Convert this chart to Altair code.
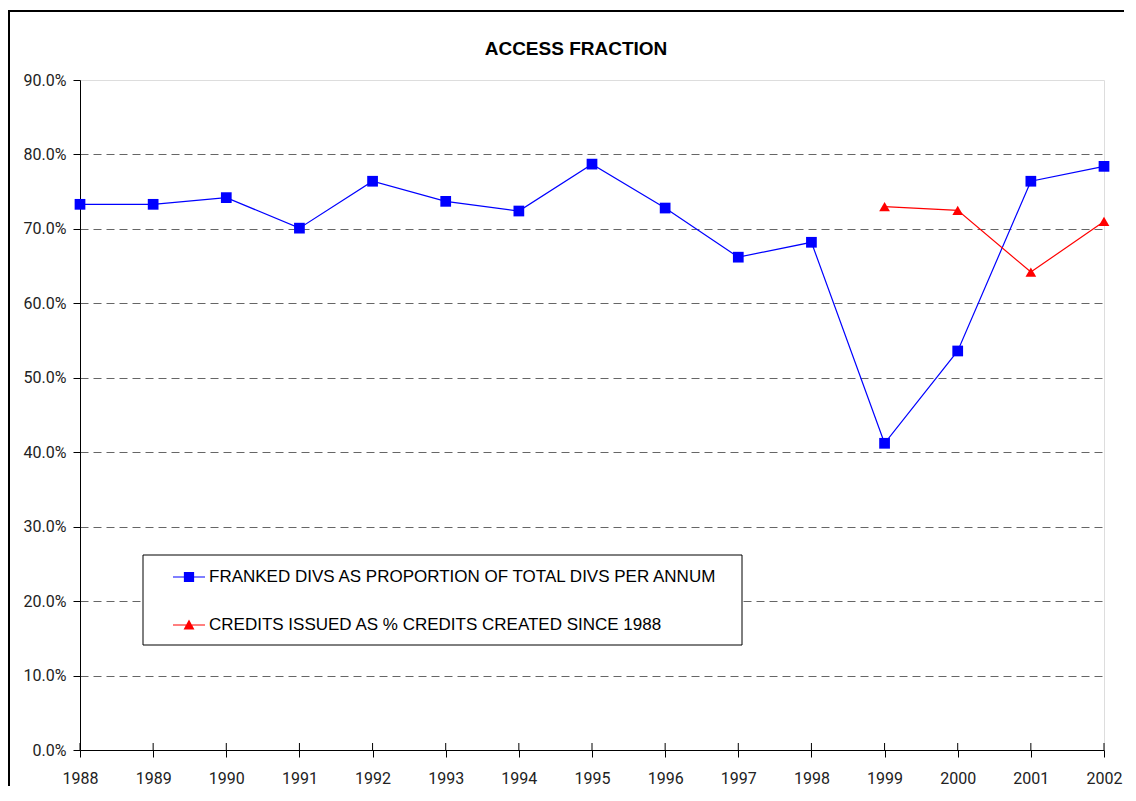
import altair as alt
import pandas as pd

years = [1988, 1989, 1990, 1991, 1992, 1993, 1994, 1995, 1996, 1997, 1998, 1999, 2000, 2001, 2002]
franked = [73.3, 73.3, 74.2, 70.1, 76.4, 73.7, 72.4, 78.7, 72.8, 66.2, 68.2, 41.2, 53.6, 76.4, 78.4]
credit_years = [1999, 2000, 2001, 2002]
credits = [73.0, 72.5, 64.2, 71.0]

series_names = ["FRANKED DIVS AS PROPORTION OF TOTAL DIVS PER ANNUM",
                "CREDITS ISSUED AS % CREDITS CREATED SINCE 1988"]
series_colors = ["#0000FF", "#FF0000"]
y_ticks = [0.0, 0.1, 0.2, 0.3, 0.4, 0.5, 0.6, 0.7, 0.8, 0.9]

rows = [{"year": y, "value": v / 100.0, "series": series_names[0]} for y, v in zip(years, franked)]
rows += [{"year": y, "value": v / 100.0, "series": series_names[1]} for y, v in zip(credit_years, credits)]
df = pd.DataFrame(rows)
df_years = pd.DataFrame({"year": years})
df_one = pd.DataFrame({"k": [0]})

W, H = 1024, 670
axis_font = "Roboto"
text_font = "Liberation Sans"

x_enc = alt.X("year:Q",
              scale=alt.Scale(domain=[1988, 2002], nice=False, zero=False),
              axis=alt.Axis(values=years, format="d", title=None, grid=False,
                            labelFont=axis_font, labelFontSize=16, labelColor="#222222",
                            tickSize=7, tickColor="#000000", domainColor="#000000",
                            labelPadding=13, labelFlush=False))
y_enc = alt.Y("value:Q",
              scale=alt.Scale(domain=[0, 0.9], nice=False),
              axis=alt.Axis(values=y_ticks, format=".1%", title=None,
                            labelFont=axis_font, labelFontSize=16, labelColor="#222222",
                            tickSize=7, tickColor="#000000", domainColor="#000000",
                            labelPadding=7,
                            grid=True, gridColor="#666666", gridDash=[8, 5],
                            gridOpacity={"condition": {"test": "datum.value > 0.85 || datum.value < 0.05", "value": 0}, "value": 1}))

color_scale = alt.Scale(domain=series_names, range=series_colors)

lines = alt.Chart(df).mark_line(strokeWidth=1.2).encode(
    x=x_enc, y=y_enc,
    color=alt.Color("series:N", scale=color_scale, legend=None),
    detail="series:N",
)

points = alt.Chart(df).mark_point(filled=True, opacity=1, size=115).encode(
    x=x_enc, y=y_enc,
    color=alt.Color("series:N", scale=color_scale, legend=None),
    shape=alt.Shape("series:N", scale=alt.Scale(domain=series_names, range=["square", "triangle-up"]), legend=None),
)

sq_path = "M-1,-0.035H-0.32V-0.32H0.32V-0.035H1V0.035H0.32V0.32H-0.32V0.035H-1Z"
tri_path = "M-1,-0.035H1V0.035H-1Z M0,-0.34L0.34,0.28H-0.34Z"

leg = alt.Legend(title=None, orient="none", legendX=63, legendY=475,
                 padding=6, symbolOffset=24, labelOffset=4, rowPadding=24,
                 symbolSize=1024, symbolOpacity=1, symbolStrokeWidth=0,
                 labelFont=text_font, labelFontSize=17, labelColor="#000000",
                 labelLimit=900)

legend_box = alt.Chart(df_one).mark_rect(fill="#FFFFFF", stroke="#000000", strokeWidth=1).encode(
    x=alt.value(63), y=alt.value(475), x2=alt.value(662), y2=alt.value(565),
)

legend_layer = alt.Chart(df).mark_point(filled=True, opacity=0, size=10).encode(
    x=x_enc, y=y_enc,
    color=alt.Color("series:N", scale=color_scale, legend=leg),
    shape=alt.Shape("series:N", scale=alt.Scale(domain=series_names, range=[sq_path, tri_path]), legend=leg),
)

xticks_up = alt.Chart(df_years).mark_rule(color="#000000", strokeWidth=1).encode(
    x=alt.X("year:Q", scale=alt.Scale(domain=[1988, 2002], nice=False, zero=False)),
    y=alt.value(H - 7), y2=alt.value(H),
)

border_top = alt.Chart(df_one).mark_rule(color="#000000", strokeWidth=2).encode(
    x=alt.value(-72), x2=alt.value(W + 100), y=alt.value(-69),
)
border_left = alt.Chart(df_one).mark_rule(color="#000000", strokeWidth=2).encode(
    x=alt.value(-71), y=alt.value(-70), y2=alt.value(H + 100),
)

chart = alt.layer(lines, points, xticks_up, legend_box, legend_layer, border_top, border_left).resolve_scale(
    color="independent", shape="independent"
).properties(
    width=W, height=H,
    title=alt.TitleParams("ACCESS FRACTION", font=text_font, fontSize=19, fontWeight="bold",
                          color="#000000", anchor="middle", dx=-16, offset=0, dy=65,
                          frame="group", baseline="alphabetic"),
    autosize=alt.AutoSizeParams(type="none"),
    padding={"left": 72, "top": 72, "right": 20, "bottom": 36},
).configure_view(stroke="#D9D9D9", strokeWidth=1).configure(background="#FFFFFF")

chart.save("out.html", embed_options={"renderer": "svg", "actions": False})
